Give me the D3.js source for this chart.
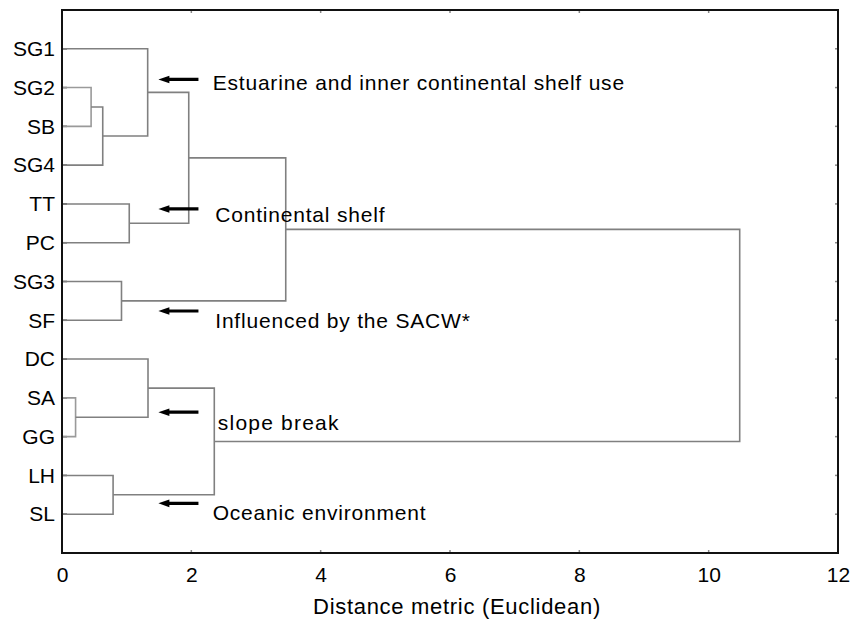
<!DOCTYPE html>
<html><head><meta charset="utf-8">
<script src="https://cdn.jsdelivr.net/npm/d3@7"></script>
<style>
html,body{margin:0;padding:0;background:#fff;}
svg text{font-family:"Liberation Sans",Arial,sans-serif;fill:#000;}
</style></head>
<body><svg id="chart" width="850" height="628"></svg>
<script>
// ---- data ----
const leaves = ["SG1","SG2","SB","SG4","TT","PC","SG3","SF","DC","SA","GG","LH","SL"];
// merges: [id, left child, right child, linkage distance]
const mergeIds    = ["m1","m2","m3","m4","m5","m6","m7","m8","m9","m10","m11","m12"];
const mergeLeft   = ["SG2","m1","SG1","TT","m3","SG3","m5","SA","DC","LH","m9","m7"];
const mergeRight  = ["SB","SG4","m2","PC","m4","SF","m6","GG","m8","SL","m10","m11"];
const mergeHeight = [0.45,0.63,1.325,1.04,1.96,0.92,3.46,0.21,1.33,0.79,2.355,10.48];
const xTicks = [0,2,4,6,8,10,12];
const groupLabels = ["Estuarine and inner continental shelf use","Continental shelf","Influenced by the SACW*","slope break","Oceanic environment"];
const arrowRows = [1.79,5.13,7.76,10.37,12.72];
const labelRows = [2.06,5.47,8.2,10.83,13.15];
const labelX = [2.33,2.37,2.37,2.41,2.33];
const xTitle = "Distance metric (Euclidean)";

// ---- layout ----
const svg = d3.select("#chart");
const L=62, R=838, T=10, B=553;
const x = d3.scaleLinear().domain([0,12]).range([L,R]);
const y = d3.scaleLinear().domain([0,14]).range([T,B]);

const pos = {};
leaves.forEach((n,i)=>{ pos[n] = {h:0, r:i+1}; });
mergeIds.forEach((id,i)=>{
  const a = pos[mergeLeft[i]], b = pos[mergeRight[i]];
  pos[id] = {h: mergeHeight[i], r:(a.r+b.r)/2};
});

const g = svg.append("g");
const xAxis = d3.axisBottom(x).tickValues(xTicks).tickSize(0).tickPadding(14).tickFormat(d3.format("d"));
const gx = g.append("g").attr("transform",`translate(0,${B})`).call(xAxis);
gx.select(".domain").remove();
gx.selectAll("text").attr("font-size",21).attr("font-family","Liberation Sans, Arial, sans-serif").attr("fill","#000");
const yAxis = d3.axisLeft(y).tickValues(d3.range(1,leaves.length+1)).tickFormat(d=>leaves[d-1]).tickSize(0).tickPadding(7);
const gy = g.append("g").attr("transform",`translate(${L},0)`).call(yAxis);
gy.select(".domain").remove();
gy.selectAll("text").attr("font-size",21).attr("font-family","Liberation Sans, Arial, sans-serif").attr("fill","#000");

const innerX = xTicks.slice(1,-1);
g.selectAll(".tb").data(innerX).enter().append("line")
  .attr("x1",d=>x(d)).attr("x2",d=>x(d)).attr("y1",B).attr("y2",B-3)
  .attr("stroke","#888").attr("stroke-width",1.5);
g.selectAll(".tt").data(innerX).enter().append("line")
  .attr("x1",d=>x(d)).attr("x2",d=>x(d)).attr("y1",T).attr("y2",T+3)
  .attr("stroke","#888").attr("stroke-width",1.5);
g.selectAll(".tr").data(d3.range(1,leaves.length+1)).enter().append("line")
  .attr("x1",R).attr("x2",R-3).attr("y1",d=>y(d)).attr("y2",d=>y(d))
  .attr("stroke","#888").attr("stroke-width",1.5);
g.selectAll(".tl").data(d3.range(1,leaves.length+1)).enter().append("line")
  .attr("x1",L).attr("x2",L+5).attr("y1",d=>y(d)).attr("y2",d=>y(d))
  .attr("stroke","#333").attr("stroke-width",1.5);

const links = mergeIds.map((id,i)=>({a:pos[mergeLeft[i]], b:pos[mergeRight[i]], h:mergeHeight[i]}));
svg.append("g").selectAll("path").data(links).enter().append("path")
  .attr("d",d=>`M${x(d.a.h)},${y(d.a.r)}H${x(d.h)}V${y(d.b.r)}H${x(d.b.h)}`)
  .attr("fill","none")
  .attr("stroke",d=>d.h<0.5?"#9a9a9a":"#808080")
  .attr("stroke-width",1.6);

svg.append("rect").attr("x",L).attr("y",T).attr("width",R-L).attr("height",B-T)
  .attr("fill","none").attr("stroke","#111").attr("stroke-width",2);

// arrows: shaft + head
const ag = svg.append("g");
const x0 = x(1.49), x1 = x(2.11);
ag.selectAll("line").data(arrowRows).enter().append("line")
  .attr("x1",x1).attr("x2",x0+7).attr("y1",d=>y(d)).attr("y2",d=>y(d))
  .attr("stroke","#000").attr("stroke-width",3.2);
ag.selectAll("path").data(arrowRows).enter().append("path")
  .attr("d",d=>`M${x0},${y(d)}L${x0+11},${y(d)-3.8}L${x0+11},${y(d)+3.8}Z`)
  .attr("fill","#000");

svg.append("g").selectAll("text").data(groupLabels).enter().append("text")
  .attr("x",(d,i)=>x(labelX[i])).attr("y",(d,i)=>y(labelRows[i]))
  .attr("font-size",21).attr("letter-spacing",(d,i)=>i===3?1.2:0.8).text(d=>d);

svg.append("text").attr("x",457).attr("y",614).attr("text-anchor","middle")
  .attr("font-size",22).attr("letter-spacing",0.7).text(xTitle);
</script></body></html>
